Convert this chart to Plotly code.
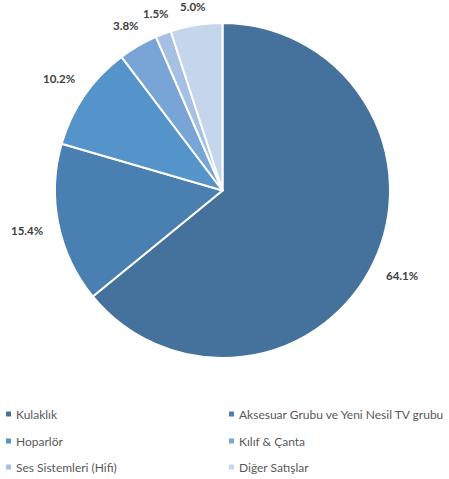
import math
import plotly.graph_objects as go

# Sales breakdown by product group (%)
categories = ["Kulaklık", "Aksesuar Grubu ve Yeni Nesil TV grubu", "Hoparlör",
              "Kılıf & Çanta", "Ses Sistemleri (Hifi)", "Diğer Satışlar"]
shares = [64.1, 15.4, 10.2, 3.8, 1.5, 5.0]
colors = ["#44729c", "#4a7fb2", "#5593cb", "#79a5d6", "#a5c0e2", "#c5d5eb"]

W, H = 449, 479
CX, CY, R = 222.5, 190.5, 167.5  # pie centre and radius in pixels


def px(x):
    return x / W


def py(y):
    return 1 - y / H


fig = go.Figure(go.Pie(
    labels=categories,
    values=shares,
    marker=dict(colors=colors, line=dict(color="white", width=2)),
    sort=False,
    direction="clockwise",
    rotation=0,
    textinfo="none",
    hoverinfo="label+percent",
    showlegend=False,
    domain=dict(x=[px(CX - R), px(CX + R)], y=[py(CY + R), py(CY - R)]),
))

annotations = []
shapes = []

# Percentage labels outside each slice, at the slice's mid angle
total = sum(shares)
cum = 0.0
for v in shares:
    theta = 2 * math.pi * (cum + v / 2) / total
    cum += v
    s, c = math.sin(theta), math.cos(theta)
    txt = f"{v:.1f}%"
    half_w = 3.4 * len(txt)
    half_h = 6
    d = R + 10 + abs(s) * (half_w + 4) + abs(c) * half_h
    annotations.append(dict(
        x=px(CX + d * s), y=py(CY - d * c), xref="paper", yref="paper",
        text=f"<b>{txt}</b>", showarrow=False, xanchor="center", yanchor="middle",
        font=dict(family="Lato", size=11.5, color="#404040"),
    ))

# Two-column legend below the pie
col_x = [6, 229]
row_y = [414, 441, 467]
for i, (name, col) in enumerate(zip(categories, colors)):
    x0 = col_x[i % 2]
    yc = row_y[i // 2]
    shapes.append(dict(type="rect", xref="paper", yref="paper",
                       x0=px(x0), x1=px(x0 + 5), y0=py(yc + 2.5), y1=py(yc - 2.5),
                       fillcolor=col, line=dict(width=0)))
    annotations.append(dict(
        x=px(x0 + 8), y=py(yc), xref="paper", yref="paper", text=name,
        showarrow=False, xanchor="left", yanchor="middle",
        font=dict(family="Lato", size=12, color="#595959"),
    ))

fig.update_layout(
    width=W, height=H,
    margin=dict(l=0, r=0, t=0, b=0),
    paper_bgcolor="white",
    plot_bgcolor="white",
    annotations=annotations,
    shapes=shapes,
)

fig.write_html("out.html")
